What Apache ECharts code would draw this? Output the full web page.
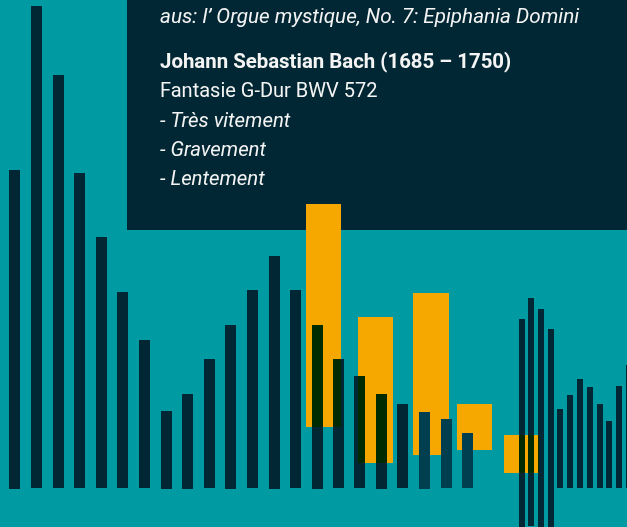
<!DOCTYPE html>
<html>
<head>
<meta charset="utf-8">
<script src="https://cdn.jsdelivr.net/npm/echarts@6/dist/echarts.min.js"></script>
<style>
html, body { margin: 0; padding: 0; background: #009ba2; }
#chart { width: 627px; height: 527px; }
</style>
</head>
<body>
<div id="chart"></div>
<script>
// main row of dark bars: centre position, top and bottom level (0 = baseline)
var mainX = [14.5, 36.5, 58.5, 79.5, 101.5, 122.5, 144.5, 166.5, 187.5, 209.5, 230.5,
  252.5, 274.5, 295.5, 317.5, 338.5, 359.5, 381.5, 402.5];
var mainTop = [318, 482, 413, 315, 251, 196, 148, 77, 94, 129, 163,
  198, 232, 198, 163, 129, 112, 94, 84];
var mainBottom = [-1, 0, 0, 0, 0, 0, 0, -1, -1, 0, -1,
  0, -1, 0, -1, 0, 0, -1, 0];
// last three bars of the row, lighter tone
var lightX = [424.5, 446.5, 467.5];
var lightTop = [76, 69, 55];
var lightBottom = [-1, 0, 0];
// thin bars on the right
var thinX = [522, 531, 541, 551, 560, 570, 580, 590, 600, 609, 619, 629];
var thinTop = [169, 190, 179, 159, 79, 93, 109, 101, 84, 67, 102, 123];
var thinBottom = [-45, -38, -45, -45, 0, 0, 0, 0, 0, 0, 0, 0];
// orange blocks
var blockLeft = [306, 358, 413, 457, 504];
var blockRight = [341, 393, 449, 492, 539];
var blockTop = [284, 171, 195, 84, 53];
var blockBottom = [61, 25, 33, 38, 15];
// programme text
var programme = [
  'aus: l\u2019 Orgue mystique, No. 7: Epiphania Domini',
  'Johann Sebastian Bach (1685 \u2013 1750)',
  'Fantasie G-Dur BWV 572',
  '- Tr\u00e8s vitement',
  '- Gravement',
  '- Lentement'
];
var programmeFont = ['italic 20.7px', 'bold 20.4px', 'normal 20px', 'italic 20.4px', 'italic 20.4px', 'italic 20.4px'];
var programmeY = [23, 68, 97, 127, 156, 185];

function zip3(a, b, c) {
  return a.map(function (v, i) { return [v, b[i], c[i]]; });
}

// dark bar, with the part lying over an orange block shown dark green
function barRenderer(width, color, overColor) {
  return function (params, api) {
    var x = api.value(0), top = api.value(1), bottom = api.value(2);
    var p0 = api.coord([x, top]);
    var p1 = api.coord([x, bottom]);
    var children = [{
      type: 'rect',
      shape: { x: p0[0] - width / 2, y: p0[1], width: width, height: p1[1] - p0[1] },
      style: { fill: color }
    }];
    if (overColor) {
      blockLeft.forEach(function (l, i) {
        var ox0 = Math.max(x - width / 2, l), ox1 = Math.min(x + width / 2, blockRight[i]);
        var oy0 = Math.min(top, blockTop[i]), oy1 = Math.max(bottom, blockBottom[i]);
        if (ox1 > ox0 && oy0 > oy1) {
          var a = api.coord([ox0, oy0]), b = api.coord([ox1, oy1]);
          children.push({
            type: 'rect',
            shape: { x: a[0], y: a[1], width: b[0] - a[0], height: b[1] - a[1] },
            style: { fill: overColor }
          });
        }
      });
    }
    return { type: 'group', children: children };
  };
}

var chart = echarts.init(document.getElementById('chart'));

var textEls = programme.map(function (t, i) {
  return {
    type: 'text',
    x: 160,
    y: programmeY[i] + 5,
    z: 10,
    style: {
      text: t,
      fill: '#f4f4f4',
      font: programmeFont[i] + ' Roboto',
      verticalAlign: 'bottom'
    }
  };
});

var option = {
  backgroundColor: '#009ba2',
  animation: false,
  grid: { left: 0, right: 0, top: 0, bottom: 0 },
  xAxis: { type: 'value', min: 0, max: 627, show: false },
  yAxis: { type: 'value', min: -39, max: 488, show: false },
  graphic: [
    { type: 'rect', z: 0, shape: { x: 127, y: 0, width: 500, height: 230 }, style: { fill: '#002733' } }
  ].concat(textEls),
  series: [
    {
      type: 'custom',
      z: 2,
      data: blockLeft.map(function (v, i) { return [v, blockTop[i], blockBottom[i], blockRight[i]]; }),
      encode: { x: [0, 3], y: [1, 2] },
      renderItem: function (params, api) {
        var p0 = api.coord([api.value(0), api.value(1)]);
        var p1 = api.coord([api.value(3), api.value(2)]);
        return {
          type: 'rect',
          shape: { x: p0[0], y: p0[1], width: p1[0] - p0[0], height: p1[1] - p0[1] },
          style: { fill: '#f7a800' }
        };
      }
    },
    {
      type: 'custom',
      z: 3,
      data: zip3(mainX, mainTop, mainBottom),
      encode: { x: 0, y: [1, 2] },
      renderItem: barRenderer(11, '#002733', '#002a00')
    },
    {
      type: 'custom',
      z: 3,
      data: zip3(thinX, thinTop, thinBottom),
      encode: { x: 0, y: [1, 2] },
      renderItem: barRenderer(6, '#002733', '#002a00')
    },
    {
      type: 'custom',
      z: 4,
      data: zip3(lightX, lightTop, lightBottom),
      encode: { x: 0, y: [1, 2] },
      renderItem: barRenderer(11, '#003f50', null)
    }
  ]
};

chart.setOption(option);
</script>
</body>
</html>
